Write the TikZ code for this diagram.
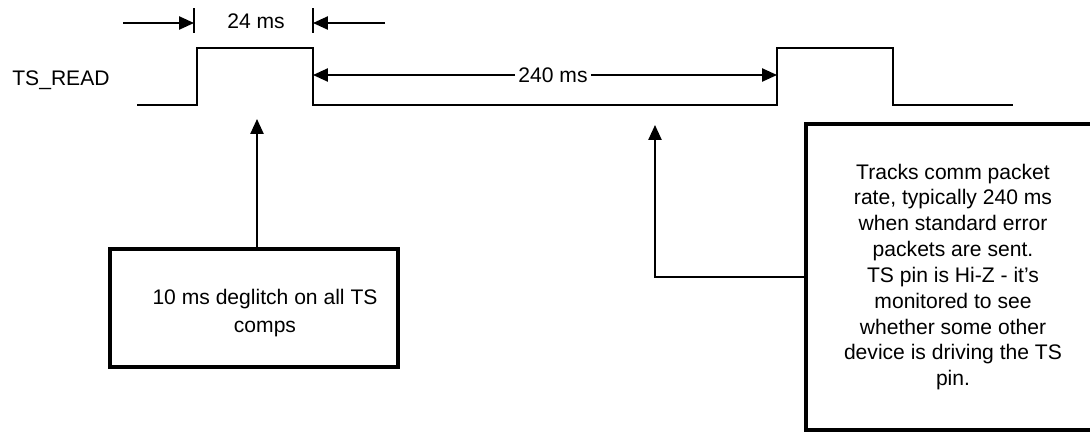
\documentclass[tikz,border=0pt]{standalone}
\usepackage{fontspec}
\setmainfont{Liberation Sans}
\usetikzlibrary{arrows.meta,positioning}
\tikzset{
  wave/.style={line width=1pt},
  dim/.style={line width=1pt, -{Triangle[length=8.5pt,width=7.5pt]}},
  notebox/.style={draw, line width=2pt, align=center, font=\fontsize{12}{14.7}\selectfont},
  lbl/.style={font=\fontsize{12}{14.7}\selectfont, inner sep=0pt},
}

\begin{document}
\begin{tikzpicture}[x=0.02cm, y=-0.02cm]
\useasboundingbox (0,0) rectangle (1090,433);

% signal trace
\node[lbl, anchor=base west] (sig) at (12,85) {TS\_READ};
\coordinate (rise1) at (197,105);
\coordinate (fall1) at (313,105);
\coordinate (rise2) at (777,105);
\coordinate (fall2) at (893,105);
\draw[wave] (137,105) -- (rise1) -- ++(0,-57) -|  (fall1) -- (rise2)
  -- ++(0,-57) -| (fall2) -- (1013,105);

% pulse width, 24 ms
\coordinate (t1) at (194,23);
\coordinate (t2) at (313,23);
\coordinate (d1) at (123,23);
\coordinate (d2) at (385,23);
\draw[wave] (194,8) -- (194,33);
\draw[wave] (313,8) -- (313,33);
\draw[dim] (d1) -- (t1);
\draw[dim] (d2) -- (t2);
\node[lbl, anchor=base] (w24) at (256,28) {24 ms};

% period, 240 ms
\coordinate (p1) at (313,75);
\coordinate (p2) at (777,75);
\node[lbl, fill=white, inner xsep=1.7pt] (w240) at (553,75) {240 ms};
\draw[dim] (w240) -- (p1);
\draw[dim] (w240) -- (p2);

% deglitch note
\node[notebox, minimum width=5.76cm, minimum height=2.36cm] (box1) at (254,308) {};
\node[lbl, align=center] (txt1) at (265,313) {10 ms deglitch on all TS\\[1pt]comps};
\coordinate (a1) at (257,119);
\draw[dim] (a1 |- box1.north) -- (a1);

% packet rate note
\node[notebox, minimum width=5.88cm, minimum height=6.12cm] (box2) at (953,277) {%
  Tracks comm packet\\rate, typically 240 ms\\when standard error\\packets are sent.\\
  TS pin is Hi-Z - it’s\\monitored to see\\whether some other\\device is driving the TS\\pin.};
\coordinate (a2) at (655,125);
\draw[dim] (box2.west) -| (a2);

\end{tikzpicture}
\end{document}
